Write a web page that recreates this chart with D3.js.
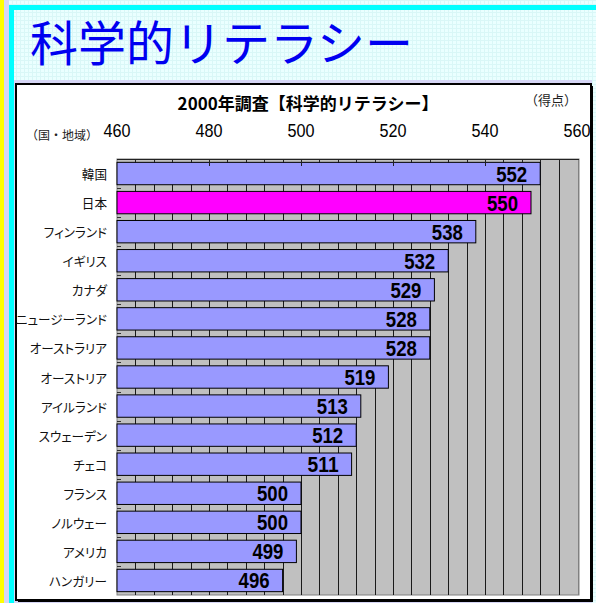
<!DOCTYPE html>
<html>
    <head>
        <meta charset="utf-8" />
        <title>科学的リテラシー</title>
        <script src="https://d3js.org/d3.v7.min.js"></script>
        <style>
html, body {
    margin: 0;
    padding: 0;
    background: #ffffff;
}
svg {
    display: block;
}
.jp {
    font-family: "Noto Sans CJK JP", sans-serif;
}
.cat {
    font-size: 12.6px;
    fill: #111;
    font-feature-settings: "palt";
}
.num {
    font-family: "Liberation Sans", Arial, sans-serif;
}
        </style>
    </head>
    <body>
        <script>
let countries = ['韓国', '日本', 'フィンランド', 'イギリス', 'カナダ', 'ニュージーランド', 'オーストラリア', 'オーストリア', 'アイルランド', 'スウェーデン', 'チェコ', 'フランス', 'ノルウェー', 'アメリカ', 'ハンガリー'];
let scores = [552, 550, 538, 532, 529, 528, 528, 519, 513, 512, 511, 500, 500, 499, 496];
let highlight = '日本';
let tickValues = [460, 480, 500, 520, 540, 560];
let pageTitle = '科学的リテラシー';
let chartTitle = '2000年調査【科学的リテラシー】';
let unitLabel = '（得点）';
let catLabel = '（国・地域）';

let W = 596, H = 603;
let svg = d3.select('body').append('svg').attr('width', W).attr('height', H);

// background with fine grid
let defs = svg.append('defs');
let pat = defs.append('pattern').attr('id', 'grid').attr('width', 4).attr('height', 4).attr('patternUnits', 'userSpaceOnUse');
pat.append('rect').attr('width', 4).attr('height', 4).attr('fill', '#eaffff');
pat.append('path').attr('d', 'M0 0.5H4M0.5 0V4').attr('stroke', '#d9f7f7').attr('stroke-width', 1);

svg.append('rect').attr('x', 0).attr('y', 0).attr('width', W).attr('height', H).attr('fill', 'url(#grid)');
svg.append('rect').attr('x', 0).attr('y', 0).attr('width', 4).attr('height', H).attr('fill', '#ffff00');
svg.append('rect').attr('x', 4).attr('y', 0).attr('width', 5).attr('height', H).attr('fill', '#d6d6f6');
svg.append('rect').attr('x', 14).attr('y', 80).attr('width', 578).attr('height', H - 80).attr('fill', '#d6d6f6');
// cyan frame
svg.append('rect').attr('x', 11.5).attr('y', 7.5).attr('width', W + 10).attr('height', H + 10)
    .attr('fill', 'none').attr('stroke', '#00ffff').attr('stroke-width', 5);

svg.append('text').attr('class', 'jp').attr('x', 30).attr('y', 40).attr('dominant-baseline', 'central')
    .style('font-size', '48px').attr('fill', '#0000f0')
    .text(pageTitle);

// chart box
svg.append('rect').attr('x', 18).attr('y', 86).attr('width', 575).attr('height', 516).attr('fill', '#000');
svg.append('rect').attr('x', 16).attr('y', 84).attr('width', 575).attr('height', 516)
    .attr('fill', '#fff').attr('stroke', '#000').attr('stroke-width', 2);

let x = d3.scaleLinear().domain([460, 560]).range([117, 577]);
let y = d3.scaleBand().domain(countries).range([159, 595]).paddingInner(0.23).paddingOuter(0.115);

// plot area
svg.append('rect').attr('x', 117).attr('y', 159).attr('width', 462).attr('height', 436)
    .attr('fill', '#c0c0c0').attr('stroke', '#808080').attr('stroke-width', 1);

let gridVals = d3.range(464, 560, 4);
svg.append('g').selectAll('line').data(gridVals).enter().append('line')
    .attr('x1', d => Math.round(x(d)) + 0.5).attr('x2', d => Math.round(x(d)) + 0.5)
    .attr('y1', 159).attr('y2', 595).attr('stroke', '#1a1a1a').attr('stroke-width', 1);
svg.append('line').attr('x1', 578.5).attr('x2', 578.5).attr('y1', 159).attr('y2', 595).attr('stroke', '#808080');

// category axis ticks (inward)
let bounds = d3.range(1, countries.length).map(i => 159 + i * 436 / countries.length);
svg.append('g').selectAll('line').data(bounds).enter().append('line')
    .attr('x1', 117).attr('x2', 121).attr('y1', d => Math.round(d) + 0.5).attr('y2', d => Math.round(d) + 0.5)
    .attr('stroke', '#333');

// bars
svg.append('g').selectAll('rect').data(countries).enter().append('rect')
    .attr('x', x(460)).attr('y', d => y(d))
    .attr('width', (d, i) => x(scores[i]) - x(460)).attr('height', y.bandwidth())
    .attr('fill', d => d === highlight ? '#ff00ff' : '#9999ff')
    .attr('stroke', '#000').attr('stroke-width', 1);

// top axis line and ticks
svg.append('line').attr('x1', 117).attr('x2', 579).attr('y1', 159.5).attr('y2', 159.5).attr('stroke', '#222');
svg.append('g').selectAll('line').data(gridVals).enter().append('line')
    .attr('x1', d => Math.round(x(d)) + 0.5).attr('x2', d => Math.round(x(d)) + 0.5)
    .attr('y1', 159).attr('y2', d => d % 20 === 0 ? 166 : 162).attr('stroke', '#222');

// value labels (condensed)
svg.append('g').selectAll('text').data(countries).enter().append('text')
    .attr('class', 'num').attr('text-anchor', 'end')
    .attr('x', (d, i) => x(scores[i]) - 13).attr('y', d => y(d) + y.bandwidth() / 2 + 8)
    .attr('textLength', 31).attr('lengthAdjust', 'spacingAndGlyphs')
    .style('font-size', '22px').style('font-weight', 'bold').attr('fill', '#000')
    .text((d, i) => scores[i]);

// category labels
svg.append('g').selectAll('text').data(countries).enter().append('text')
    .attr('class', 'jp cat').attr('text-anchor', 'end')
    .attr('x', 107).attr('y', d => y(d) + y.bandwidth() / 2).attr('dominant-baseline', 'central')
    .text(d => d);

// top tick labels (condensed)
svg.append('g').selectAll('text').data(tickValues).enter().append('text')
    .attr('class', 'num').attr('text-anchor', 'middle')
    .attr('x', d => x(d)).attr('y', 137)
    .attr('textLength', 27).attr('lengthAdjust', 'spacingAndGlyphs')
    .style('font-size', '19px').attr('fill', '#000')
    .text(d => d);

svg.append('text').attr('class', 'jp').attr('x', 308).attr('y', 102).attr('text-anchor', 'middle').attr('dominant-baseline', 'central')
    .style('font-size', '17px').style('font-weight', 'bold')
    .text(chartTitle);

svg.append('text').attr('class', 'jp').attr('x', 525).attr('y', 99).attr('dominant-baseline', 'central')
    .style('font-size', '13px').attr('fill', '#222')
    .text(unitLabel);

svg.append('text').attr('class', 'jp').attr('x', 26).attr('y', 134).attr('dominant-baseline', 'central')
    .style('font-size', '12px').attr('fill', '#222')
    .text(catLabel);
        </script>
    </body>
</html>
